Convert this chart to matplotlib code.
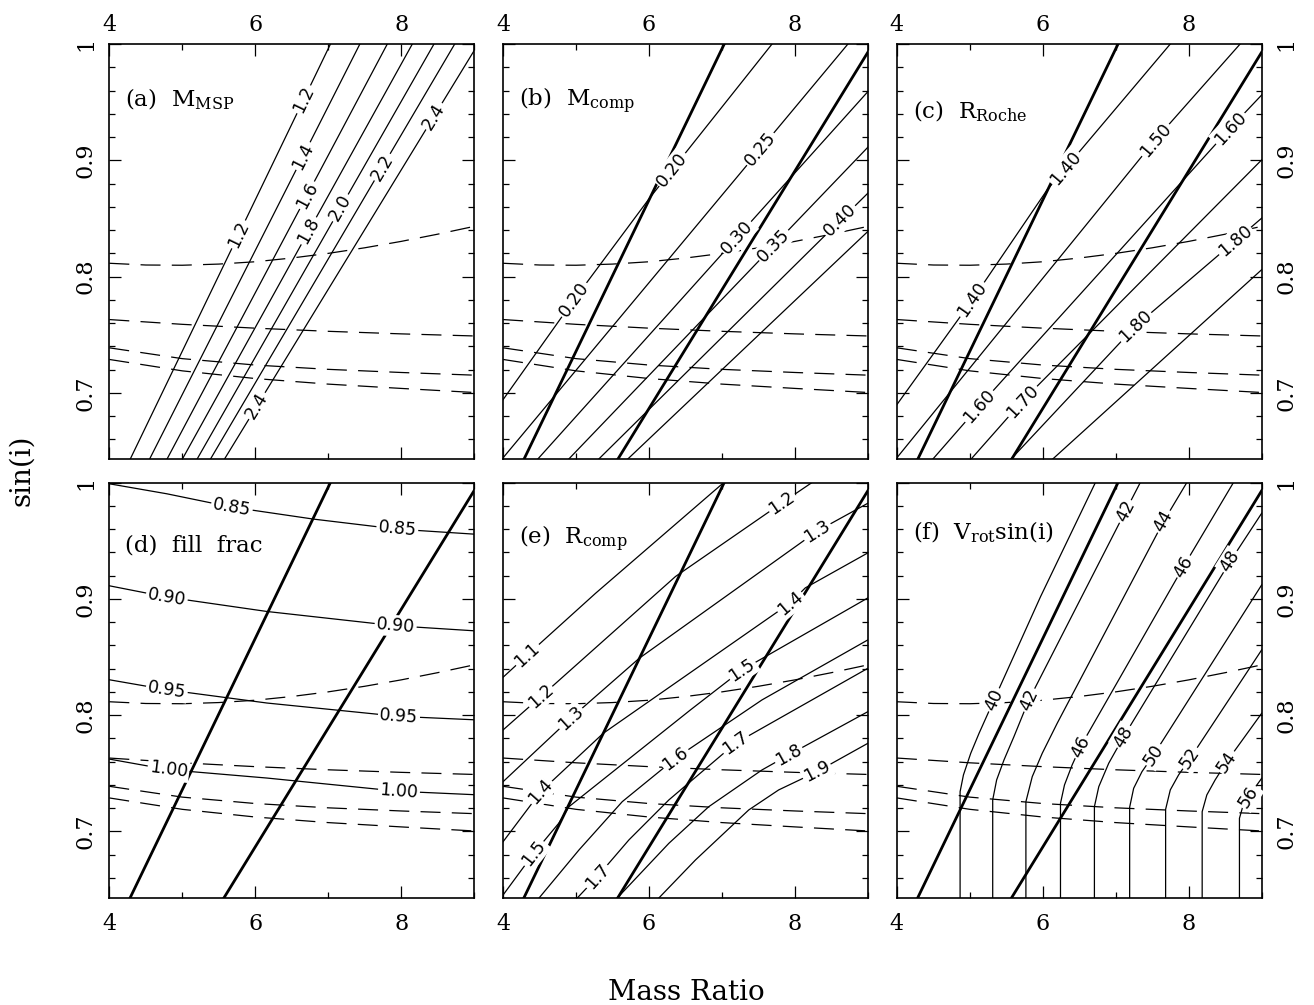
import matplotlib.pyplot as plt
import numpy as np

plt.rcParams['font.family'] = 'DejaVu Serif'
plt.rcParams['mathtext.fontset'] = 'dejavuserif'

ymin = 0.6428  # sin(40 deg)

# Dashed curves (same in every panel)
dash1_x = [4.0, 4.5, 5.0, 5.5, 6.0, 6.5, 7.0, 7.5, 8.0, 8.5, 9.0]
dash1_y = [0.8115, 0.8100, 0.8098, 0.8108, 0.8128, 0.8160, 0.8200, 0.8248, 0.8303, 0.8365, 0.8432]
dash_x = [4, 5, 6, 7, 8, 9]
dash2_y = [0.7631, 0.7590, 0.7557, 0.7530, 0.7508, 0.7490]
dash3_y = [0.7388, 0.7295, 0.7240, 0.7203, 0.7176, 0.7153]
dash4_y = [0.7288, 0.7190, 0.7124, 0.7076, 0.7039, 0.7004]

# Thick boundary lines (panels b-f)
thick_x = [[4.284, 7.031], [5.570, 9.0]]
thick_y = [[ymin, 1.0], [ymin, 0.993]]

# (a) M_MSP
msp_levels = ['1.2', '1.4', '1.6', '1.8', '2.0', '2.2', '2.4']
msp_x = [[4.284, 7.031], [4.549, 7.434], [4.788, 7.810], [4.998, 8.153],
         [5.200, 8.450], [5.383, 8.734], [5.575, 9.0]]
msp_y = [[ymin, 1.0], [ymin, 1.0], [ymin, 1.0], [ymin, 1.0],
         [ymin, 1.0], [ymin, 1.0], [ymin, 0.9943]]
msp_lab = [[5.772, 6.665], [6.656], [6.710], [6.734], [7.168], [7.741], [6.024, 8.450]]

# (b) M_comp
comp_levels = ['0.20', '0.25', '0.30', '0.35', '0.40', '0.45']
comp_x = [[4.0, 4.972, 6.007, 7.686], [4.0, 8.726], [4.470, 9.0],
          [4.894, 9.0], [5.305, 9.0], [5.702, 9.0]]
comp_y = [[0.6943, 0.7802, 0.8675, 1.0], [0.6443, 1.0], [ymin, 0.9591],
          [ymin, 0.9113], [ymin, 0.8718], [ymin, 0.8389]]
comp_lab = [[4.972, 6.318], [7.526], [7.207], [7.709], [8.621], []]

# (c) R_Roche
roche_levels = ['1.40', '1.50', '1.60', '1.70', '1.80', '1.90']
roche_x = [[4.0, 5.035, 6.060, 7.747], [4.0, 7.541, 8.704], [4.488, 5.126, 8.567, 9.0],
           [5.012, 5.718, 9.0], [5.559, 7.268, 9.0], [6.129, 9.0]]
roche_y = [[0.690, 0.7802, 0.8747, 1.0], [0.6443, 0.9176, 1.0], [ymin, 0.6886, 0.9276, 0.9562],
           [ymin, 0.6929, 0.9004], [ymin, 0.7573, 0.8503], [ymin, 0.806]]
roche_lab = [[5.035, 6.311], [7.541], [5.126, 8.567], [5.718], [7.268, 8.635], []]

# (d) fill fraction
fill_levels = ['0.85', '0.90', '0.95', '1.00']
fill_x = [[4.0, 4.788, 5.680, 6.802, 7.947, 9.0], [4.0, 4.788, 6.161, 7.924, 9.0],
          [4.0, 4.788, 6.161, 7.970, 9.0], [4.0, 4.810, 6.161, 7.970, 9.0]]
fill_y = [[0.9989, 0.9903, 0.9788, 0.9685, 0.9599, 0.9556], [0.9112, 0.9015, 0.8891, 0.8768, 0.8725],
          [0.8304, 0.8218, 0.8104, 0.7989, 0.7960], [0.7622, 0.7531, 0.7459, 0.7345, 0.7316]]
fill_lab = [[5.68, 7.947], [4.788, 7.924], [4.788, 7.97], [4.81, 7.97]]

# (e) R_comp
rcomp_levels = ['1.1', '1.2', '1.3', '1.4', '1.5', '1.6', '1.7', '1.8', '1.9']
rcomp_x = [[4.0, 4.333, 5.268, 7.025],
           [4.0, 4.516, 6.363, 7.823, 8.234],
           [4.0, 4.926, 5.866, 8.302, 9.0],
           [4.0, 4.516, 5.373, 7.937, 8.142, 9.0],
           [4.0, 4.420, 4.762, 4.903, 6.568, 7.276, 7.526, 9.0],
           [4.493, 5.040, 5.633, 6.363, 7.549, 9.0],
           [5.017, 5.291, 5.724, 6.272, 7.184, 9.0],
           [5.565, 6.272, 6.819, 7.549, 7.914, 9.0],
           [6.135, 6.637, 7.367, 7.777, 8.302, 9.0]]
rcomp_y = [[0.8326, 0.8518, 0.9048, 1.0],
           [0.7873, 0.8159, 0.9192, 0.9825, 1.0],
           [0.7428, 0.7973, 0.8489, 0.9581, 0.9822],
           [0.6912, 0.7342, 0.7844, 0.8965, 0.9094, 0.9395],
           [0.6454, 0.6812, 0.7070, 0.7213, 0.8045, 0.8389, 0.8478, 0.9008],
           [ymin, 0.6841, 0.7256, 0.7629, 0.8131, 0.8647],
           [ymin, 0.6611, 0.6927, 0.7271, 0.7758, 0.8403],
           [ymin, 0.6898, 0.7213, 0.7529, 0.7658, 0.8030],
           [ymin, 0.6755, 0.7185, 0.7357, 0.7514, 0.7758]]
rcomp_lab = [[4.333], [4.516, 7.823], [4.926, 8.302], [4.516, 7.937], [4.420, 7.276],
             [6.363], [5.291, 7.184], [7.914], [8.302]]

# (f) V_rot sin(i)
vrot_levels = ['40', '42', '44', '46', '48', '50', '52', '54', '56']
vrot_x = [[4.866, 4.866, 4.912, 5.012, 5.126, 5.331, 5.969, 6.721],
          [5.313, 5.313, 5.367, 5.468, 5.604, 5.809, 7.131, 7.336],
          [5.768, 5.768, 5.855, 5.992, 6.197, 7.655, 7.974],
          [6.242, 6.242, 6.297, 6.402, 6.516, 7.929, 8.613],
          [6.707, 6.707, 6.767, 6.903, 7.108, 8.567, 9.0],
          [7.190, 7.190, 7.245, 7.359, 7.519, 9.0],
          [7.683, 7.683, 7.747, 7.861, 8.020, 9.0],
          [8.184, 8.184, 8.248, 8.362, 8.521, 9.0],
          [8.695, 8.695, 8.740, 8.818, 9.0]]
vrot_y = [[ymin, 0.7342, 0.7486, 0.7672, 0.7844, 0.8131, 0.9019, 1.0],
          [ymin, 0.7271, 0.7443, 0.7615, 0.7815, 0.8131, 0.9751, 1.0],
          [ymin, 0.7256, 0.7471, 0.7672, 0.7930, 0.9665, 1.0],
          [ymin, 0.7242, 0.7400, 0.7572, 0.7729, 0.9278, 1.0],
          [ymin, 0.7213, 0.7385, 0.7586, 0.7815, 0.9321, 0.9736],
          [ymin, 0.7208, 0.7371, 0.7514, 0.7658, 0.9120],
          [ymin, 0.7190, 0.7357, 0.7486, 0.7629, 0.8561],
          [ymin, 0.7170, 0.7314, 0.7443, 0.7600, 0.8016],
          [ymin, 0.7113, 0.7213, 0.7299, 0.7457]]
vrot_lab = [[5.331], [5.809, 7.131], [7.655], [6.516, 7.929], [7.108, 8.567],
            [7.519], [8.020], [8.521], [8.818]]

panels = [
    (r'(a)  M$_{\mathrm{MSP}}$', msp_levels, msp_x, msp_y, msp_lab, False, 0.851),
    (r'(b)  M$_{\mathrm{comp}}$', comp_levels, comp_x, comp_y, comp_lab, True, 0.851),
    (r'(c)  R$_{\mathrm{Roche}}$', roche_levels, roche_x, roche_y, roche_lab, True, 0.822),
    ('(d)  fill  frac', fill_levels, fill_x, fill_y, fill_lab, True, 0.834),
    (r'(e)  R$_{\mathrm{comp}}$', rcomp_levels, rcomp_x, rcomp_y, rcomp_lab, True, 0.850),
    (r'(f)  V$_{\mathrm{rot}}$sin(i)', vrot_levels, vrot_x, vrot_y, vrot_lab, True, 0.864),
]


def put_label(ax, xs, ys, xl, text):
    # label sits on the line, rotated along it
    yl = np.interp(xl, xs, ys)
    d = 0.05
    p0 = ax.transData.transform((xl - d, np.interp(xl - d, xs, ys)))
    p1 = ax.transData.transform((xl + d, np.interp(xl + d, xs, ys)))
    ang = np.degrees(np.arctan2(p1[1] - p0[1], p1[0] - p0[0]))
    ax.text(xl, yl, text, rotation=ang, rotation_mode='anchor', ha='center', va='center',
            fontsize=12.5, family='DejaVu Sans', zorder=5,
            bbox=dict(boxstyle='square,pad=0.1', fc='white', ec='none'))


fig = plt.figure(figsize=(13.14, 10.05), dpi=100)
axs = fig.subplots(2, 3)
fig.subplots_adjust(left=0.0832, right=0.9602, bottom=0.1065, top=0.9562,
                    wspace=0.0795, hspace=0.0554)

for k, ax in enumerate(axs.flat):
    row, col = divmod(k, 3)
    title, levels, lx, ly, labs, thick, ty = panels[k]

    ax.set_xlim(4, 9)
    ax.set_ylim(ymin, 1.0)
    ax.set_xticks([4, 6, 8])
    ax.set_xticklabels(['4', '6', '8'])
    ax.set_xticks([5, 7, 9], minor=True)
    ax.set_yticks([0.7, 0.8, 0.9, 1.0])
    ax.set_yticklabels(['0.7', '0.8', '0.9', '1'])
    ax.set_yticks(np.arange(0.66, 0.99, 0.02), minor=True)
    ax.tick_params(which='both', direction='in', top=True, right=True, width=0.9)
    ax.tick_params(which='major', length=8.5)
    ax.tick_params(which='minor', length=4.5)
    ax.tick_params(axis='x', labelsize=16, labelbottom=(row == 1), labeltop=(row == 0),
                   pad=(11 if row == 1 else 6))
    ax.tick_params(axis='y', labelsize=16, labelrotation=90, labelleft=(col == 0),
                   labelright=(col == 2), pad=(9 if col == 0 else 10))
    for t in ax.yaxis.get_major_ticks():
        t.label1.set_va('center')
        t.label2.set_va('center')
    for s in ax.spines.values():
        s.set_linewidth(1.2)

    # dashed curves
    ax.plot(dash1_x, dash1_y, color='black', lw=0.9, dashes=(16, 9))
    for dy in (dash2_y, dash3_y, dash4_y):
        ax.plot(dash_x, dy, color='black', lw=0.9, dashes=(16, 9))

    # thick boundaries
    if thick:
        for tx, tyy in zip(thick_x, thick_y):
            ax.plot(tx, tyy, color='black', lw=2.0, zorder=3)

    # contour lines + labels
    for lev, xs, ys, lab in zip(levels, lx, ly, labs):
        ax.plot(xs, ys, color='black', lw=0.9, zorder=2)
        for xl in lab:
            put_label(ax, xs, ys, xl, lev)

    ax.text(0.043, ty, title, transform=ax.transAxes, fontsize=16.5, va='baseline', zorder=6)

fig.text(22 / 1314, 1 - 470 / 1005, 'sin(i)', rotation=90, fontsize=20, ha='center', va='center')
fig.text(686 / 1314, 1 - 992 / 1005, 'Mass Ratio', fontsize=20, ha='center', va='center')

fig.savefig('out.png', dpi=100)
